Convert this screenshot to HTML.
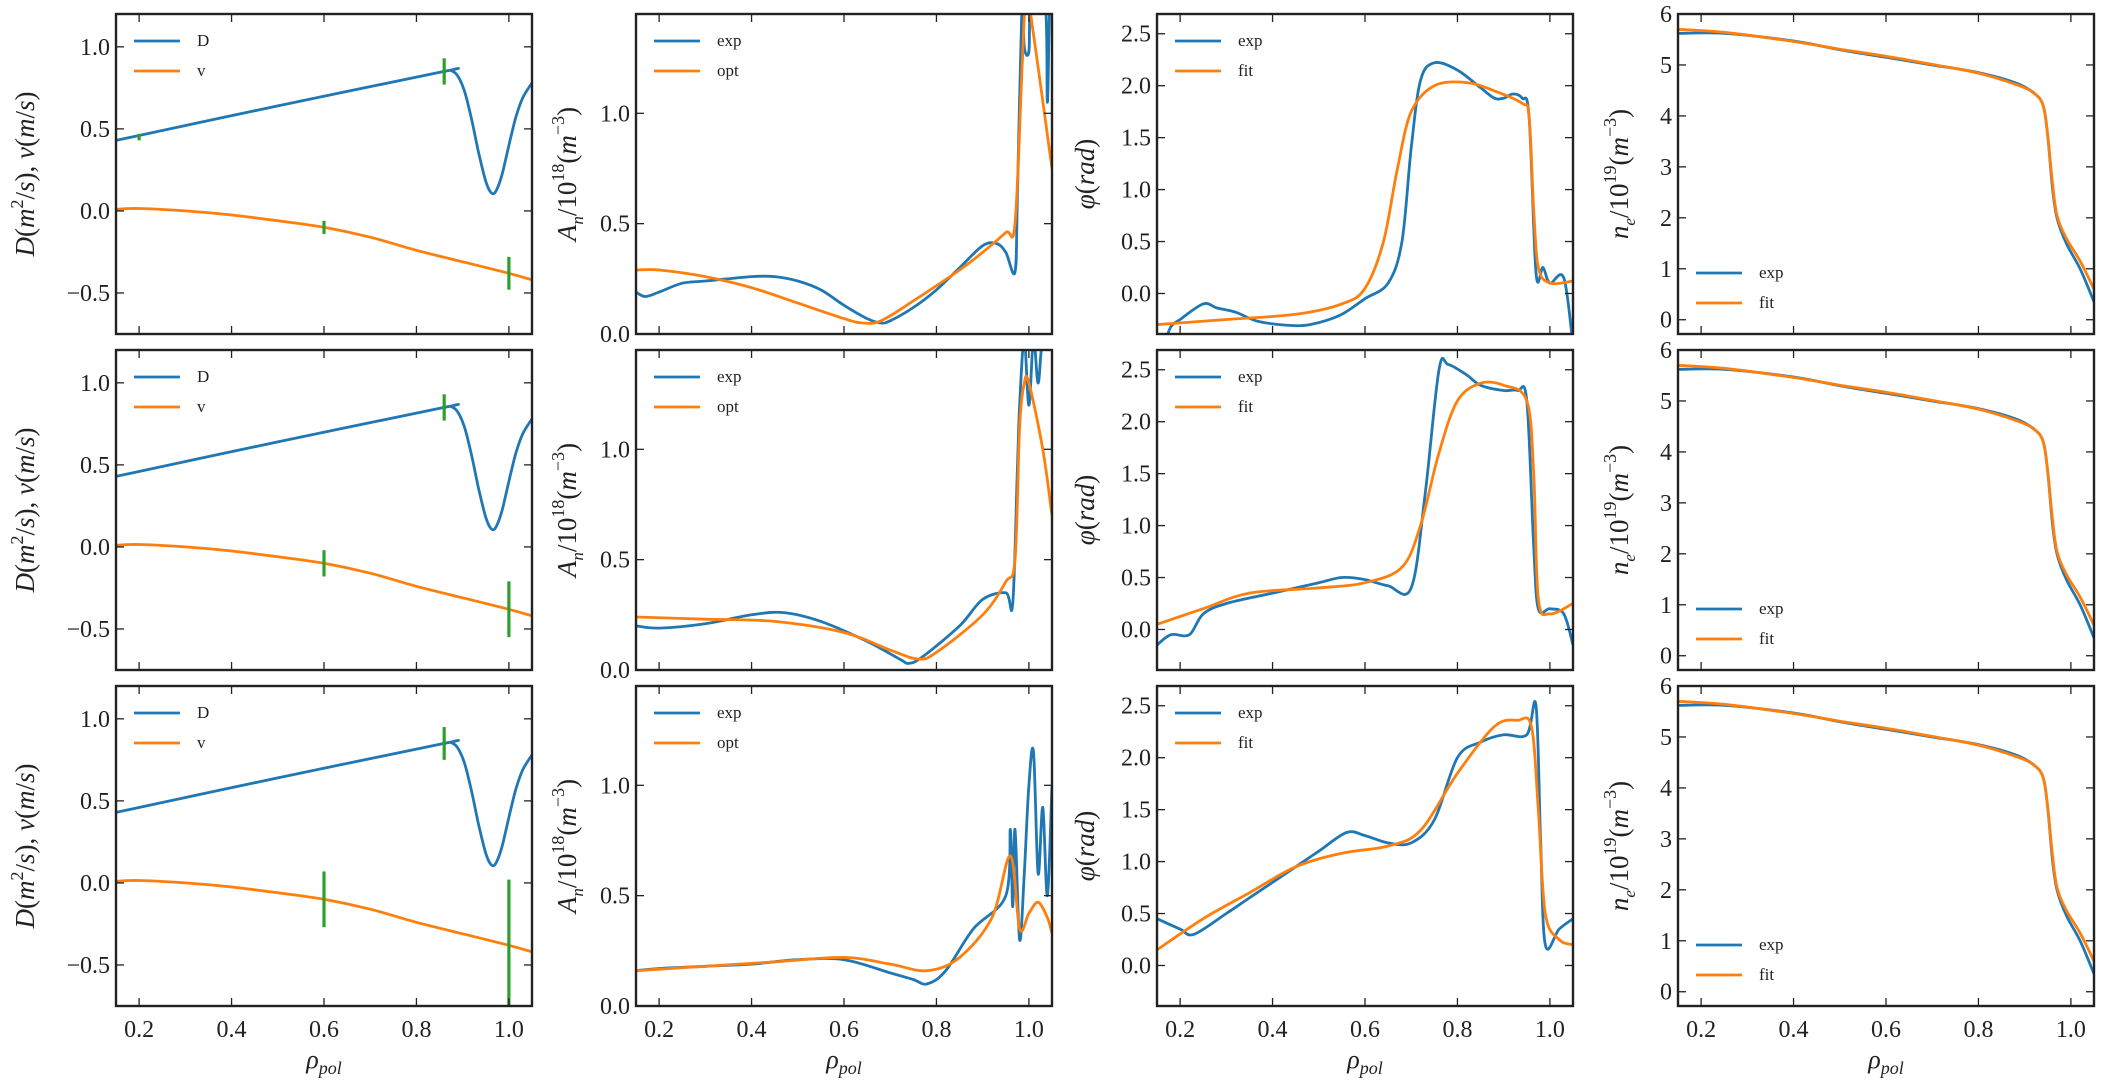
<!DOCTYPE html>
<html><head><meta charset="utf-8"><style>
html,body{margin:0;padding:0;background:#fff;}
svg{display:block;}
text{font-family:"Liberation Serif","DejaVu Serif",serif;fill:#222;}
</style></head><body>
<svg id="s" width="2101" height="1081" xmlns="http://www.w3.org/2000/svg"></svg>
<script>
const S=document.getElementById('s');
let h='';
const cols=[116,636,1157,1678], W=416, rows=[14,350,686], H=320;
const X0=0.15,X1=1.05;
const yr=[[-0.75,1.2],[0,1.45],[-0.39,2.69],[-0.28,6]];
const yt=[[-0.5,0,0.5,1.0],[0,0.5,1.0],[0,0.5,1,1.5,2,2.5],[0,1,2,3,4,5,6]];
const ylab=[
 '<tspan font-style="italic">D</tspan>(<tspan font-style="italic">m</tspan><tspan dy="-11" font-size="18">2</tspan><tspan dy="11">/</tspan><tspan font-style="italic">s</tspan>), <tspan font-style="italic">v</tspan>(<tspan font-style="italic">m</tspan>/<tspan font-style="italic">s</tspan>)',
 '<tspan font-style="italic">A</tspan><tspan dy="7" font-size="17" font-style="italic">n</tspan><tspan dy="-7">/10</tspan><tspan dy="-12" font-size="18">18</tspan><tspan dy="12">(</tspan><tspan font-style="italic">m</tspan><tspan dy="-12" font-size="18">−3</tspan><tspan dy="12">)</tspan>',
 '<tspan font-style="italic">φ</tspan>(<tspan font-style="italic">rad</tspan>)',
 '<tspan font-style="italic">n</tspan><tspan dy="7" font-size="17" font-style="italic">e</tspan><tspan dy="-7">/10</tspan><tspan dy="-12" font-size="18">19</tspan><tspan dy="12">(</tspan><tspan font-style="italic">m</tspan><tspan dy="-12" font-size="18">−3</tspan><tspan dy="12">)</tspan>'];
const ylx=[34,576,1094,1628];
const leg=[['D','v'],['exp','opt'],['exp','fit'],['exp','fit']];
const B='#1f77b4',O='#ff7f0e',G='#2ca02c';
const Dd=[[0.15,0.43],[0.5,0.64],[0.86,0.85],[0.875,0.855],[0.89,0.82],[0.905,0.72],[0.92,0.55],[0.935,0.35],[0.95,0.18],[0.962,0.11],[0.972,0.12],[0.985,0.22],[1.0,0.4],[1.015,0.57],[1.03,0.69],[1.05,0.78]];
const Vd=[[0.15,0.01],[0.2,0.015],[0.3,0.0],[0.4,-0.025],[0.5,-0.06],[0.6,-0.1],[0.7,-0.16],[0.8,-0.24],[0.9,-0.31],[1.0,-0.38],[1.05,-0.42]];
const ne=[[0.15,5.62],[0.25,5.62],[0.4,5.47],[0.5,5.3],[0.6,5.15],[0.7,5.0],[0.8,4.85],[0.88,4.65],[0.92,4.45],[0.94,4.2],[0.95,3.6],[0.96,2.6],[0.97,2.0],[0.99,1.5],[1.02,1.0],[1.05,0.35]];
const nf=[[0.15,5.7],[0.25,5.64],[0.4,5.46],[0.5,5.31],[0.6,5.17],[0.7,5.01],[0.8,4.84],[0.88,4.62],[0.92,4.45],[0.94,4.2],[0.95,3.6],[0.96,2.7],[0.97,2.05],[0.99,1.6],[1.02,1.15],[1.05,0.6]];
const data={
 '0,1':[[[0.15,0.19],[0.17,0.17],[0.2,0.19],[0.25,0.23],[0.3,0.24],[0.4,0.26],[0.45,0.26],[0.5,0.24],[0.55,0.2],[0.6,0.13],[0.65,0.07],[0.68,0.05],[0.7,0.06],[0.75,0.12],[0.8,0.2],[0.85,0.3],[0.9,0.4],[0.93,0.41],[0.95,0.37],[0.97,0.28],[0.975,0.6],[0.985,1.5],[0.99,1.3],[1.0,1.28],[1.005,1.5],[1.035,1.5],[1.04,1.05],[1.045,1.5],[1.05,1.5]],
        [[0.15,0.29],[0.2,0.29],[0.3,0.26],[0.4,0.21],[0.5,0.14],[0.6,0.07],[0.64,0.05],[0.68,0.06],[0.75,0.15],[0.85,0.29],[0.9,0.37],[0.95,0.46],[0.97,0.5],[0.985,1.2],[0.992,1.5],[1.0,1.5],[1.05,0.75]]],
 '1,1':[[[0.15,0.2],[0.2,0.19],[0.3,0.21],[0.4,0.25],[0.47,0.26],[0.55,0.22],[0.65,0.13],[0.72,0.05],[0.74,0.03],[0.77,0.06],[0.85,0.2],[0.9,0.32],[0.95,0.35],[0.965,0.3],[0.975,0.9],[0.98,1.2],[0.99,1.5],[1.0,1.2],[1.01,1.5],[1.02,1.3],[1.03,1.5],[1.05,1.5]],
        [[0.15,0.24],[0.3,0.23],[0.45,0.22],[0.6,0.17],[0.7,0.09],[0.76,0.05],[0.8,0.08],[0.9,0.25],[0.95,0.4],[0.97,0.5],[0.98,1.1],[0.99,1.3],[1.0,1.3],[1.03,1.0],[1.05,0.7]]],
 '2,1':[[[0.15,0.16],[0.2,0.17],[0.3,0.18],[0.4,0.19],[0.5,0.21],[0.6,0.21],[0.7,0.15],[0.75,0.12],[0.78,0.1],[0.82,0.16],[0.88,0.35],[0.95,0.5],[0.96,0.8],[0.965,0.45],[0.97,0.8],[0.98,0.3],[0.99,0.6],[1.0,1.0],[1.01,1.15],[1.02,0.6],[1.03,0.9],[1.04,0.5],[1.05,1.0]],
        [[0.15,0.16],[0.3,0.18],[0.45,0.2],[0.6,0.22],[0.7,0.19],[0.78,0.16],[0.85,0.22],[0.92,0.4],[0.96,0.68],[0.98,0.35],[1.0,0.42],[1.02,0.47],[1.04,0.4],[1.05,0.33]]],
 '0,2':[[[0.165,-0.5],[0.18,-0.32],[0.2,-0.25],[0.25,-0.1],[0.28,-0.14],[0.32,-0.18],[0.37,-0.27],[0.45,-0.31],[0.5,-0.28],[0.55,-0.2],[0.6,-0.05],[0.65,0.1],[0.68,0.5],[0.7,1.4],[0.72,2.05],[0.75,2.22],[0.8,2.15],[0.85,1.98],[0.88,1.88],[0.9,1.88],[0.92,1.92],[0.94,1.88],[0.955,1.7],[0.97,0.2],[0.985,0.25],[1.0,0.1],[1.03,0.15],[1.05,-0.5]],
        [[0.15,-0.3],[0.3,-0.25],[0.45,-0.2],[0.55,-0.1],[0.6,0.05],[0.64,0.5],[0.67,1.2],[0.7,1.75],[0.75,2.0],[0.82,2.03],[0.88,1.95],[0.94,1.83],[0.955,1.7],[0.965,0.8],[0.975,0.25],[1.0,0.1],[1.05,0.12]]],
 '1,2':[[[0.15,-0.15],[0.18,-0.05],[0.22,-0.05],[0.25,0.15],[0.3,0.25],[0.4,0.35],[0.5,0.45],[0.55,0.5],[0.6,0.48],[0.65,0.42],[0.7,0.4],[0.73,1.3],[0.76,2.5],[0.78,2.55],[0.82,2.45],[0.85,2.35],[0.9,2.3],[0.93,2.3],[0.95,2.2],[0.965,0.8],[0.975,0.2],[1.0,0.2],[1.03,0.15],[1.05,-0.15]],
        [[0.15,0.05],[0.25,0.2],[0.35,0.35],[0.5,0.4],[0.6,0.45],[0.68,0.6],[0.72,1.0],[0.76,1.7],[0.8,2.2],[0.85,2.37],[0.9,2.35],[0.95,2.2],[0.965,1.5],[0.975,0.3],[1.0,0.15],[1.05,0.25]]],
 '2,2':[[[0.15,0.45],[0.2,0.35],[0.23,0.3],[0.3,0.5],[0.35,0.65],[0.45,0.95],[0.5,1.1],[0.56,1.28],[0.6,1.25],[0.65,1.18],[0.7,1.18],[0.75,1.4],[0.8,2.0],[0.85,2.15],[0.9,2.22],[0.95,2.22],[0.97,2.5],[0.98,1.2],[0.99,0.2],[1.02,0.35],[1.05,0.45]],
        [[0.15,0.15],[0.25,0.45],[0.35,0.7],[0.45,0.95],[0.55,1.08],[0.65,1.15],[0.72,1.3],[0.8,1.85],[0.88,2.3],[0.93,2.36],[0.96,2.3],[0.975,1.5],[0.99,0.5],[1.02,0.25],[1.05,0.2]]]
};
const bars=[[[0.2,0.45,0.02],[0.6,-0.1,0.04],[0.86,0.85,0.08],[1.0,-0.38,0.1]],[[0.6,-0.1,0.08],[0.86,0.85,0.08],[1.0,-0.38,0.17]],[[0.6,-0.1,0.17],[0.86,0.85,0.1],[1.0,-0.38,0.4]]];
function smooth(P){ // Catmull-Rom to bezier
 let d=`M${P[0][0].toFixed(1)},${P[0][1].toFixed(1)}`;
 for(let i=0;i<P.length-1;i++){
  const p0=P[Math.max(0,i-1)],p1=P[i],p2=P[i+1],p3=P[Math.min(P.length-1,i+2)];
  const k=1/6;
  const c1=[p1[0]+(p2[0]-p0[0])*k,p1[1]+(p2[1]-p0[1])*k];
  const c2=[p2[0]-(p3[0]-p1[0])*k,p2[1]-(p3[1]-p1[1])*k];
  d+=`C${c1[0].toFixed(1)},${c1[1].toFixed(1)} ${c2[0].toFixed(1)},${c2[1].toFixed(1)} ${p2[0].toFixed(1)},${p2[1].toFixed(1)}`;
 }
 return d;
}
for(let r=0;r<3;r++)for(let c=0;c<4;c++){
 const L=cols[c],T=rows[r],[y0,y1]=yr[c];
 const px=x=>L+(x-X0)/(X1-X0)*W, py=y=>T+H-(y-y0)/(y1-y0)*H;
 const id='c'+r+c;
 h+=`<clipPath id="${id}"><rect x="${L}" y="${T}" width="${W}" height="${H}"/></clipPath><g clip-path="url(#${id})">`;
 const pl=(d,col,w)=>{h+=`<path fill="none" stroke="${col}" stroke-width="${w}" stroke-linejoin="round" d="${smooth(d.map(p=>[px(p[0]),py(p[1])]))}"/>`;};
 if(c==0){pl(Dd,B,2.8);pl(Vd,O,2.8);
   for(const b of bars[r])h+=`<line x1="${px(b[0])}" x2="${px(b[0])}" y1="${py(b[1]+b[2])}" y2="${py(b[1]-b[2])}" stroke="${G}" stroke-width="3.2"/>`;}
 else if(c==3){pl(ne,B,2.8);pl(nf,O,2.8);}
 else{const d=data[r+','+c];pl(d[0],B,2.8);pl(d[1],O,2.8);}
 h+='</g>';
 for(let x=0.2;x<=1.001;x+=0.2){const X=px(x);h+=`<line x1="${X}" x2="${X}" y1="${T+H}" y2="${T+H-8}" stroke="#222" stroke-width="1.3"/><line x1="${X}" x2="${X}" y1="${T}" y2="${T+8}" stroke="#222" stroke-width="1.3"/>`;
   if(r==2)h+=`<text x="${X}" y="${T+H+31}" font-size="24" text-anchor="middle">${x.toFixed(1)}</text>`;}
 for(const y of yt[c]){const Y=py(y);h+=`<line x1="${L}" x2="${L+8}" y1="${Y}" y2="${Y}" stroke="#222" stroke-width="1.3"/><line x1="${L+W-8}" x2="${L+W}" y1="${Y}" y2="${Y}" stroke="#222" stroke-width="1.3"/>`;
   const s=c==3?String(y):(y<0?'−':'')+Math.abs(y).toFixed(1);
   h+=`<text x="${L-6}" y="${Y+8}" font-size="24" text-anchor="end">${s}</text>`;}
 h+=`<rect x="${L}" y="${T}" width="${W}" height="${H}" fill="none" stroke="#222" stroke-width="2.4"/>`;
 const ly=c==3?[T+H-61,T+H-31]:[T+27,T+57];
 for(let i=0;i<2;i++){h+=`<line x1="${L+18}" x2="${L+64}" y1="${ly[i]}" y2="${ly[i]}" stroke="${i?O:B}" stroke-width="2.8"/><text x="${L+81}" y="${ly[i]+5}" font-size="17">${leg[c][i]}</text>`;}
 const cy=T+H/2;
 h+=`<text transform="translate(${ylx[c]},${cy}) rotate(-90)" font-size="27" text-anchor="middle">${ylab[c]}</text>`;
 if(r==2)h+=`<text x="${L+W/2}" y="1068" font-size="26" text-anchor="middle"><tspan font-style="italic">ρ</tspan><tspan dy="6" font-size="18" font-style="italic">pol</tspan></text>`;
}
S.innerHTML=h;
</script>
</body></html>
